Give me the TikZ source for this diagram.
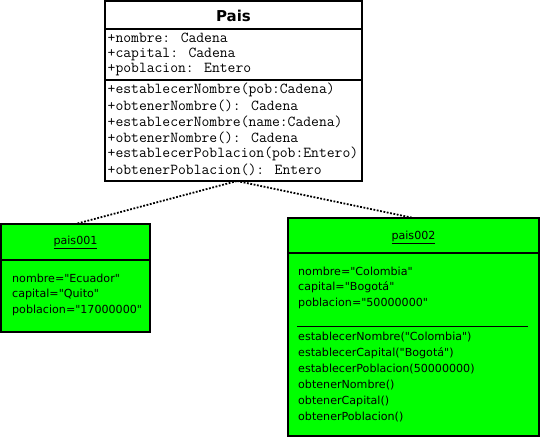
\documentclass[tikz,border=0pt]{standalone}
\usepackage{fontspec}
\newfontfamily\objf{DejaVu Sans}[Ligatures=TeXOff]
\newfontfamily\titlef{DejaVu Sans}
\usetikzlibrary{calc}
\definecolor{objgreen}{RGB}{0,255,0}
\tikzset{
  classbox/.style={draw=black, line width=1.6pt, fill=white, anchor=north west, inner sep=0pt, outer sep=0pt},
  objbox/.style={draw=black, line width=1.6pt, fill=objgreen, anchor=north west, inner sep=0pt, outer sep=0pt},
  sepline/.style={line width=1.6pt},
  thinsep/.style={line width=1pt},
  monotxt/.style={font=\ttfamily\fontsize{15.2}{16}\selectfont, inner sep=0pt, anchor=west},
  objtxt/.style={font=\objf\fontsize{11.1}{13}\selectfont, inner sep=0pt, anchor=west},
  objhead/.style={font=\objf\fontsize{11.1}{13}\selectfont, inner sep=0pt},
  titletxt/.style={font=\titlef\bfseries\fontsize{15}{17}\selectfont, inner sep=0pt},
  instlink/.style={line width=1.8pt, dash pattern=on 1.8pt off 1.6pt}
}
\begin{document}
\begin{tikzpicture}[x=1pt,y=-1pt]
\useasboundingbox (0,0) rectangle (540,437);
% class Pais
\node[classbox, minimum width=257pt, minimum height=180pt] (pais) at (105,1) {};
\draw[sepline] (105,29) -- (362,29);
\draw[sepline] (105,80) -- (362,80);
\node[titletxt] (ptitle) at (233.5,16) {Pais};
\node[monotxt] (pa1) at (107.5,38) {+nombre: Cadena};
\node[monotxt] (pa2) at (107.5,54) {+capital: Cadena};
\node[monotxt] (pa3) at (107.5,70) {+poblacion: Entero};
\node[monotxt] (pm1) at (107.5,90) {+establecerNombre(pob:Cadena)};
\node[monotxt] (pm2) at (107.5,106) {+obtenerNombre(): Cadena};
\node[monotxt] (pm3) at (107.5,122) {+establecerNombre(name:Cadena)};
\node[monotxt] (pm4) at (107.5,138) {+obtenerNombre(): Cadena};
\node[monotxt] (pm5) at (107.5,154) {+establecerPoblacion(pob:Entero)};
\node[monotxt] (pm6) at (107.5,170) {+obtenerPoblacion(): Entero};
% object pais001
\node[objbox, minimum width=149pt, minimum height=108pt] (o1) at (1,224) {};
\draw[sepline] (1,260) -- (150,260);
\node[objhead] (o1h) at (75.5,242) {\underline{pais001}};
\node[objtxt] (o1a) at (12,278) {nombre="Ecuador"};
\node[objtxt] (o1b) at (12,294) {capital="Quito"};
\node[objtxt] (o1c) at (12,310) {poblacion="17000000"};
% object pais002
\node[objbox, minimum width=251pt, minimum height=218pt] (o2) at (288,218) {};
\draw[sepline] (288,253) -- (539,253);
\node[objhead] (o2h) at (413.5,237) {\underline{pais002}};
\node[objtxt] (o2a) at (298,271) {nombre="Colombia"};
\node[objtxt] (o2b) at (298,287) {capital="Bogotá"};
\node[objtxt] (o2c) at (298,303) {poblacion="50000000"};
\draw[thinsep] (297,326) -- (528,326);
\node[objtxt] (o2m1) at (298,337) {establecerNombre("Colombia")};
\node[objtxt] (o2m2) at (298,353) {establecerCapital("Bogotá")};
\node[objtxt] (o2m3) at (298,369) {establecerPoblacion(50000000)};
\node[objtxt] (o2m4) at (298,385) {obtenerNombre()};
\node[objtxt] (o2m5) at (298,401) {obtenerCapital()};
\node[objtxt] (o2m6) at (298,417) {obtenerPoblacion()};
% links
\coordinate (pj) at ($(pais.south)+(3.5,0)$);
\draw[instlink] (pj) -- (o1.north);
\draw[instlink] (pj) -- (o2.north);
\end{tikzpicture}
\end{document}
